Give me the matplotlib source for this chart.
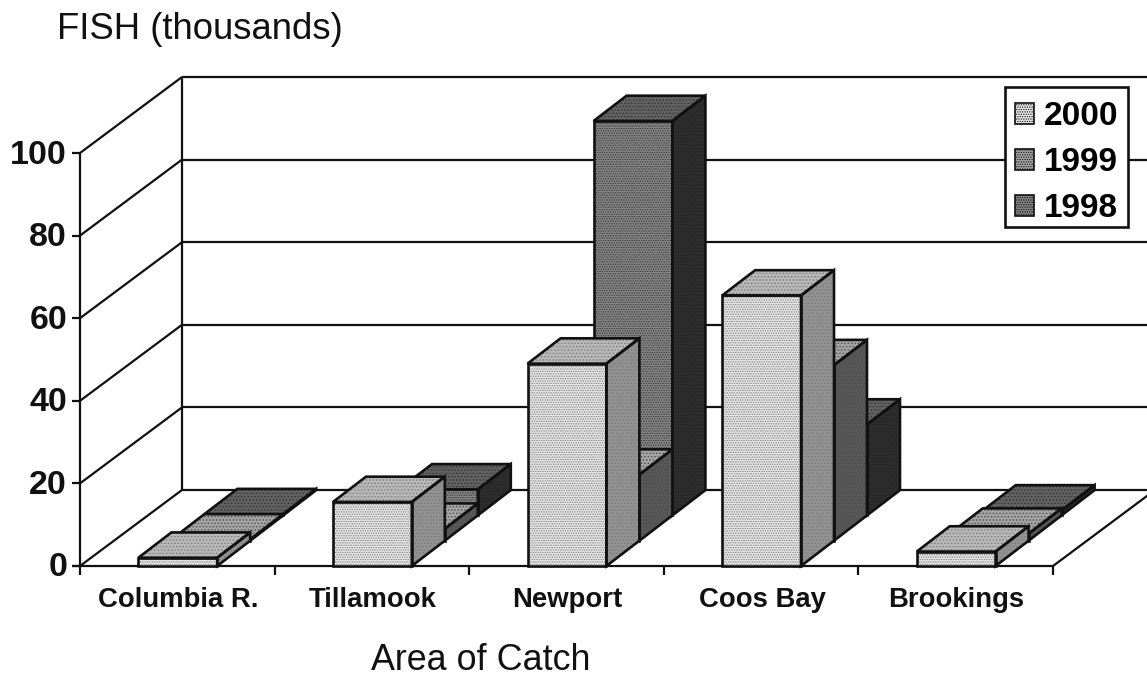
#!/usr/bin/env python3
"""Fish catch by area, 3-D column look drawn as an oblique projection."""
import matplotlib
matplotlib.use("Agg")
import matplotlib.pyplot as plt
from matplotlib.patches import Polygon, Patch, Rectangle

plt.rcParams["font.family"] = ["Liberation Sans", "DejaVu Sans"]
plt.rcParams["hatch.linewidth"] = 0.6

areas = ["Columbia R.", "Tillamook", "Newport", "Coos Bay", "Brookings"]
years = ["2000", "1999", "1998"]
catch_2000 = [2, 15.5, 49, 65.5, 3.5]
catch_1999 = [0.3, 2.9, 16, 42.5, 1.7]
catch_1998 = [0.3, 6.3, 95.5, 22, 1.2]
y_ticks = [0, 20, 40, 60, 80, 100]

# one depth step in axis units (33 px right, 25.3 px up)
PX_X, PX_Y = 194.6, 4.13
DX, DY = 33 / PX_X, 25.3 / PX_Y
BAR_X0, BAR_W = 0.30, 0.405

# front, top, side, grain on front
shades = {"2000": ("#e6e6e6", "#b8b8b8", "#929292", "#7a7a7a"),
          "1999": ("#a6a6a6", "#a4a4a4", "#585858", "#4c4c4c"),
          "1998": ("#868686", "#626262", "#2a2a2a", "#333333")}

fig = plt.figure(figsize=(11.47, 6.79), dpi=100)
ax = fig.add_axes([0, 0, 1, 1])
ax.set_xlim(-80 / PX_X, (1147 - 80) / PX_X)
ax.set_ylim(-(679 - 566) / PX_Y, 566 / PX_Y)
ax.axis("off")

LW = 1.6
BAR_LW = 1.9
xmax = ax.get_xlim()[1]
back_x, back_dy = 102 / PX_X, 76 / PX_Y


def line(xs, ys, lw=LW):
    ax.plot(xs, ys, color="#111111", lw=lw, solid_capstyle="butt", zorder=1, clip_on=False)


# walls and floor
line([0, 0], [0, 100])
line([back_x, back_x], [back_dy, back_dy + 100])
for v in y_ticks:
    line([0, back_x], [v, v + back_dy])
    line([back_x, xmax], [v + back_dy, v + back_dy])
    line([-8 / PX_X, 0], [v, v])
    ax.text(-13 / PX_X, v - 2 / PX_Y, str(v), ha="right", va="center", fontsize=24.5,
            fontweight="bold", color="#111111")
line([-8 / PX_X, 5], [0, 0])
line([5, 5 + back_x], [0, back_dy])
for i in range(6):
    line([i, i], [0, -9 / PX_Y])
for i, name in enumerate(areas):
    ax.text(i + 0.505, -34 / PX_Y, name, ha="center", va="center", fontsize=19.8,
            fontweight="bold", color="#111111")


def bar(i, depth, value, year, z):
    front, top, side, grain = shades[year]
    x0 = i + BAR_X0 + depth * DX
    x1 = x0 + BAR_W
    y0 = depth * DY
    y1 = y0 + value
    faces = [([(x0, y0), (x1, y0), (x1, y1), (x0, y1)], front, "......."),
             ([(x0, y1), (x1, y1), (x1 + DX, y1 + DY), (x0 + DX, y1 + DY)], top, "....."),
             ([(x1, y0), (x1 + DX, y0 + DY), (x1 + DX, y1 + DY), (x1, y1)], side, ".....")]
    for pts, col, hatch in faces:
        ax.add_patch(Polygon(pts, closed=True, facecolor=col, edgecolor=grain,
                             hatch=hatch, lw=0, zorder=z))
        ax.add_patch(Polygon(pts, closed=True, fill=False, edgecolor="#111111",
                             lw=BAR_LW, joinstyle="miter", zorder=z + 0.1))


# back row first so the nearer columns cover it
for depth, (year, vals) in reversed(list(enumerate(zip(years, [catch_2000, catch_1999, catch_1998])))):
    for i, v in enumerate(vals):
        bar(i, depth, v, year, 3 + (2 - depth))

# legend box drawn apart so the entries can sit lower inside it
ax.add_patch(Rectangle((1005 / 1147, 1 - 227 / 679), 123 / 1147, 140 / 679, transform=fig.transFigure,
                       facecolor="white", edgecolor="#111111", lw=BAR_LW, zorder=9))
handles = [Patch(facecolor=shades[y][0], edgecolor="#111111", lw=1.2, hatch=".......") for y in years]
leg = ax.legend(handles, years, loc="upper left", bbox_to_anchor=(1005 / 1147, 1 - 91 / 679),
                borderaxespad=0, frameon=False, prop={"size": 24, "weight": "bold"},
                handlelength=0.58, handleheight=0.6, handletextpad=0.3, labelspacing=0.45,
                borderpad=0.3)
leg.set_zorder(10)

fig.text(57 / 1147, 1 - 39 / 679, "FISH (thousands)", fontsize=26.3, color="#111111")
fig.text(480.5 / 1147, 1 - 660 / 679, "Area of Catch", fontsize=25.8, color="#111111",
         ha="center", va="center")

fig.savefig("out.png", dpi=100)
